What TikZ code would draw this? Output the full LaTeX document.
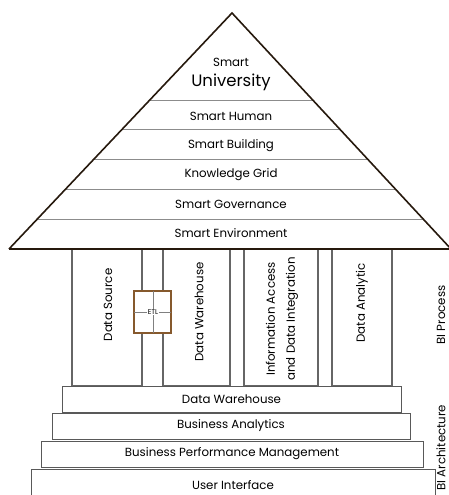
\documentclass[tikz,border=0pt]{standalone}
\usepackage{fontspec}
\setmainfont{Poppins}
\usetikzlibrary{calc}

\begin{document}
\begin{tikzpicture}[x=1pt,y=-1pt,font=\fontsize{11.8}{20}\selectfont,
  roof/.style={draw=black!80!brown, line width=1.6pt, line join=miter},
  floor/.style={draw=black!45, line width=0.8pt},
  pillar/.style={draw=black!60, line width=1.3pt},
  stepbox/.style={draw=black!65, line width=0.9pt, inner sep=0pt},
  sidetext/.style={rotate=90, align=center}]

\useasboundingbox (0,0) rectangle (449,495);

% pillars under the roof
\draw[pillar] (72,249) rectangle (142,386);
\draw[pillar] (163,249) rectangle (230,386);
\draw[pillar] (244,249) rectangle (318,386);
\draw[pillar] (332,249) rectangle (392,386);

\node[sidetext] (src) at (108,305) {Data Source};
\node[sidetext] (dwp) at (199,312) {Data Warehouse};
\node[sidetext] (info) at (282,319) {Information Access\\and Data Integration};
\node[sidetext] (ana) at (362,303) {Data Analytic};

% ETL box between the first two pillars
\draw[draw=brown!70!black, line width=1.3pt, fill=white] (134,291) rectangle (171,333);
\draw[black!50, line width=0.6pt] (153,291) -- (153,333);
\draw[black!50, line width=0.6pt] (134,312) -- (171,312);
\node[fill=white, inner sep=1pt, font=\fontsize{7}{8}\selectfont] (etl) at (153,312) {ETL};

% roof
\coordinate (top) at (232,13);
\coordinate (left) at (9,249);
\coordinate (right) at (451,249);
\foreach \y in {100,129,159,189,219}{
\draw[floor] ($(left)!{(249-\y)/236}!(top)$) -- ($(right)!{(249-\y)/236}!(top)$);
}
\draw[roof] (left) -- (top) -- (right);
\draw[roof, line width=2.2pt] (left) -- (right);

\node (smart) at (231,62) {Smart};
\node[font=\fontsize{16.5}{19}\selectfont] (univ) at (231,82) {University};
\node (human) at (231,116) {Smart Human};
\node (build) at (231,146) {Smart Building};
\node (grid) at (231,175) {Knowledge Grid};
\node (gov) at (231,204) {Smart Governance};
\node (env) at (231,233) {Smart Environment};

% steps
\node[stepbox, minimum width=339, minimum height=26] (dw) at (231.5,399) {Data Warehouse};
\node[stepbox, minimum width=358, minimum height=26] (ba) at (231,426) {Business Analytics};
\node[stepbox, minimum width=382, minimum height=26] (bpm) at (232,454) {Business Performance Management};
\node[stepbox, minimum width=404, minimum height=32] (ui) at (233,485) {User Interface};

% side labels
\node[sidetext, anchor=west] (proc) at (441,348) {BI Process};
\node[sidetext, anchor=west] (arch) at (441,494) {BI Architecture};

\end{tikzpicture}
\end{document}
